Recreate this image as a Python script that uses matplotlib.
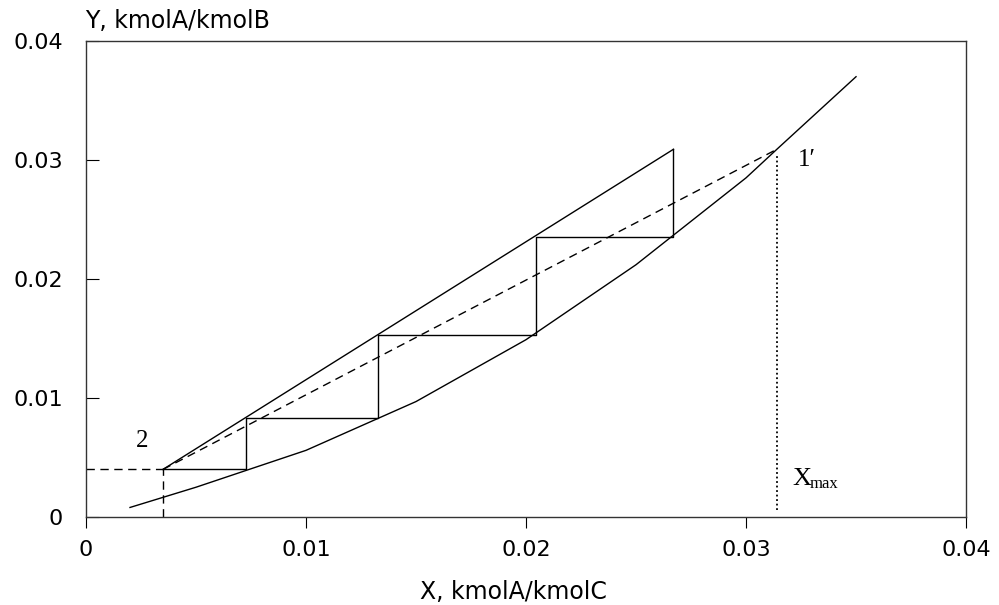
import matplotlib.pyplot as plt

# equilibrium curve
eq_x = [0.002, 0.005, 0.01, 0.015, 0.02, 0.025, 0.03, 0.0314, 0.035]
eq_y = [0.0008, 0.0025, 0.0056, 0.0097, 0.0149, 0.0212, 0.0285, 0.0309, 0.037]

# operating line (end points)
op_x = [0.0035, 0.0267]
op_y = [0.004, 0.0309]

# minimum-ratio line 2 -> 1'
min_x = [0.0035, 0.0314]
min_y = [0.004, 0.0309]

# stage steps
step_x = [0.0035, 0.00726, 0.00726, 0.01329, 0.01329, 0.02044, 0.02044, 0.0267, 0.0267]
step_y = [0.004, 0.004, 0.00835, 0.00835, 0.0153, 0.0153, 0.0235, 0.0235, 0.0309]

x_ticks = [0, 0.01, 0.02, 0.03, 0.04]
y_ticks = [0, 0.01, 0.02, 0.03, 0.04]
tick_labels = ['0', '0.01', '0.02', '0.03', '0.04']

x_max = 0.0314

fig = plt.figure(figsize=(9.99, 6.05), dpi=100)
ax = fig.add_axes([0.0861, 0.1455, 0.8809, 0.7867])

lw = 1.0
ax.plot(eq_x, eq_y, color='black', lw=lw)
ax.plot(op_x, op_y, color='black', lw=lw)
ax.plot(step_x, step_y, color='black', lw=lw)
ax.plot(min_x, min_y, color='black', lw=lw, dashes=(6, 4))
ax.plot([0, min_x[0]], [min_y[0], min_y[0]], color='black', lw=lw, dashes=(6, 4))
ax.plot([min_x[0], min_x[0]], [0, min_y[0]], color='black', lw=lw, dashes=(6, 4))
ax.plot([x_max, x_max], [0.0006, 0.0303], color='black', lw=1.3, ls=(0, (1, 1.5)))

serif = 'Liberation Serif'
ax.text(0.00255, 0.0059, '2', fontsize=18, family=serif, ha='center', va='baseline')
ax.text(0.03236, 0.0295, '1\u2032', fontsize=18, family=serif, ha='left', va='baseline')
ax.text(0.0321, 0.0027, 'X', fontsize=19, family=serif, ha='left', va='baseline')
ax.text(0.0329, 0.0024, 'max', fontsize=12, family=serif, ha='left', va='baseline')

ax.set_xlim(0, 0.04)
ax.set_ylim(0, 0.04)
ax.set_xticks(x_ticks)
ax.set_xticklabels(tick_labels)
ax.set_yticks(y_ticks)
ax.set_yticklabels(tick_labels)

sans = 'DejaVu Sans'
for lab in ax.get_xticklabels() + ax.get_yticklabels():
    lab.set_family(sans)
    lab.set_fontsize(16)
ax.tick_params(axis='x', direction='out', length=8, width=0.8, pad=8.5)
ax.tick_params(axis='y', direction='in', length=9.5, width=0.8, pad=16.5)
for s in ax.spines.values():
    s.set_linewidth(1.0)
    s.set_color('#333333')

fig.text(0.5135, 0.022, 'X, kmolA/kmolC', family=sans, fontsize=17, ha='center', va='center')
fig.text(0.085, 0.965, 'Y, kmolA/kmolB', family=sans, fontsize=17, ha='left', va='center')

fig.savefig('out.png', dpi=100)
